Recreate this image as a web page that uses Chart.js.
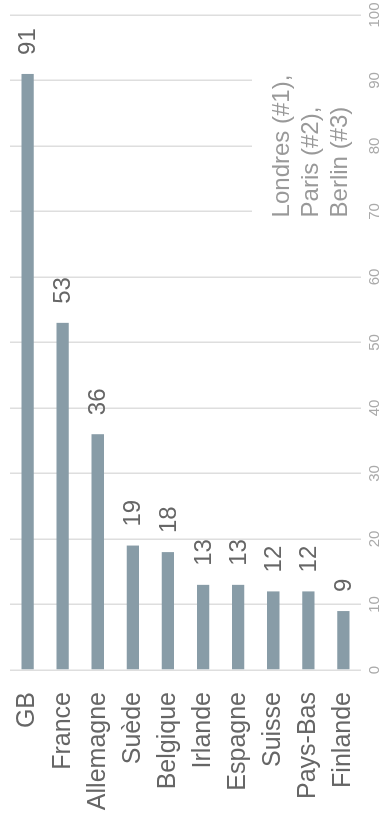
<!DOCTYPE html>
<html>
<head>
<meta charset="utf-8">
<script src="https://cdn.jsdelivr.net/npm/chart.js@4/dist/chart.umd.min.js"></script>
<style>
  html, body { margin: 0; padding: 0; background: #fff; overflow: hidden; }
  body { width: 387px; height: 822px; position: relative; }
  /* the chart is laid out as horizontal bars, then turned a quarter turn */
  #wrap {
    position: absolute; left: 0; top: 822px;
    width: 822px; height: 387px;
    transform-origin: 0 0; transform: rotate(-90deg);
  }
</style>
</head>
<body>
<div id="wrap"><canvas id="chart" width="822" height="387"></canvas></div>
<script>
const countries = ["GB", "France", "Allemagne", "Suède", "Belgique", "Irlande", "Espagne", "Suisse", "Pays-Bas", "Finlande"];
const counts = [91, 53, 36, 19, 18, 13, 13, 12, 12, 9];
const topCities = ["Londres (#1),", "Paris (#2),", "Berlin (#3)"];

const FONT = "Liberation Sans, Arial, Helvetica, sans-serif";

// value printed past the end of each bar
const valueLabels = {
    id: "valueLabels",
    afterDatasetsDraw(chart) {
        const ctx = chart.ctx;
        const meta = chart.getDatasetMeta(0);
        ctx.save();
        ctx.font = "24px " + FONT;
        ctx.fillStyle = "#666";
        ctx.textAlign = "left";
        ctx.textBaseline = "middle";
        meta.data.forEach((bar, i) => {
            ctx.fillText(String(counts[i]), bar.x + 19, bar.y + 1);
        });
        ctx.restore();
    }
};

// note about the top cities, on a white patch over the grid
const cityNote = {
    id: "cityNote",
    beforeDatasetsDraw(chart) {
        const ctx = chart.ctx;
        const x = chart.scales.x;
        const area = chart.chartArea;
        const left = x.getPixelForValue(69.1);
        ctx.save();
        ctx.fillStyle = "#fff";
        ctx.fillRect(left - 8, 252, 170, area.bottom - 252 + 2);
        ctx.font = "24px " + FONT;
        ctx.fillStyle = "#999";
        ctx.textAlign = "left";
        ctx.textBaseline = "middle";
        topCities.forEach((line, i) => {
            ctx.fillText(line, left, 282 + i * 29);
        });
        ctx.restore();
    }
};

new Chart(document.getElementById("chart"), {
    type: "bar",
    data: {
        labels: countries,
        datasets: [{
            data: counts,
            backgroundColor: "#889ca7",
            barPercentage: 0.35,
            categoryPercentage: 1.0,
        }]
    },
    options: {
        indexAxis: "y",
        responsive: false,
        animation: false,
        layout: { padding: { top: 10, right: 15, left: 0, bottom: 0 } },
        plugins: {
            legend: { display: false },
            tooltip: { enabled: false },
        },
        scales: {
            x: {
                position: "bottom",
                min: 0,
                max: 100,
                ticks: {
                    stepSize: 10,
                    color: "#aaa",
                    font: { family: FONT, size: 15 },
                    padding: 5,
                },
                grid: { color: "#dedede", lineWidth: 1.5, drawTicks: false },
                border: { display: false },
                afterFit(axis) {
                    axis.height = 26;
                    axis.paddingLeft = 0;
                    axis.paddingRight = 0;
                },
            },
            y: {
                ticks: {
                    color: "#666",
                    font: { family: FONT, size: 25 },
                    padding: 22,
                },
                grid: { display: false, drawTicks: false },
                border: { display: false },
                afterFit(axis) {
                    axis.width = 152;
                    axis.paddingTop = 0;
                    axis.paddingBottom = 0;
                },
            }
        }
    },
    plugins: [cityNote, valueLabels]
});
</script>
</body>
</html>
